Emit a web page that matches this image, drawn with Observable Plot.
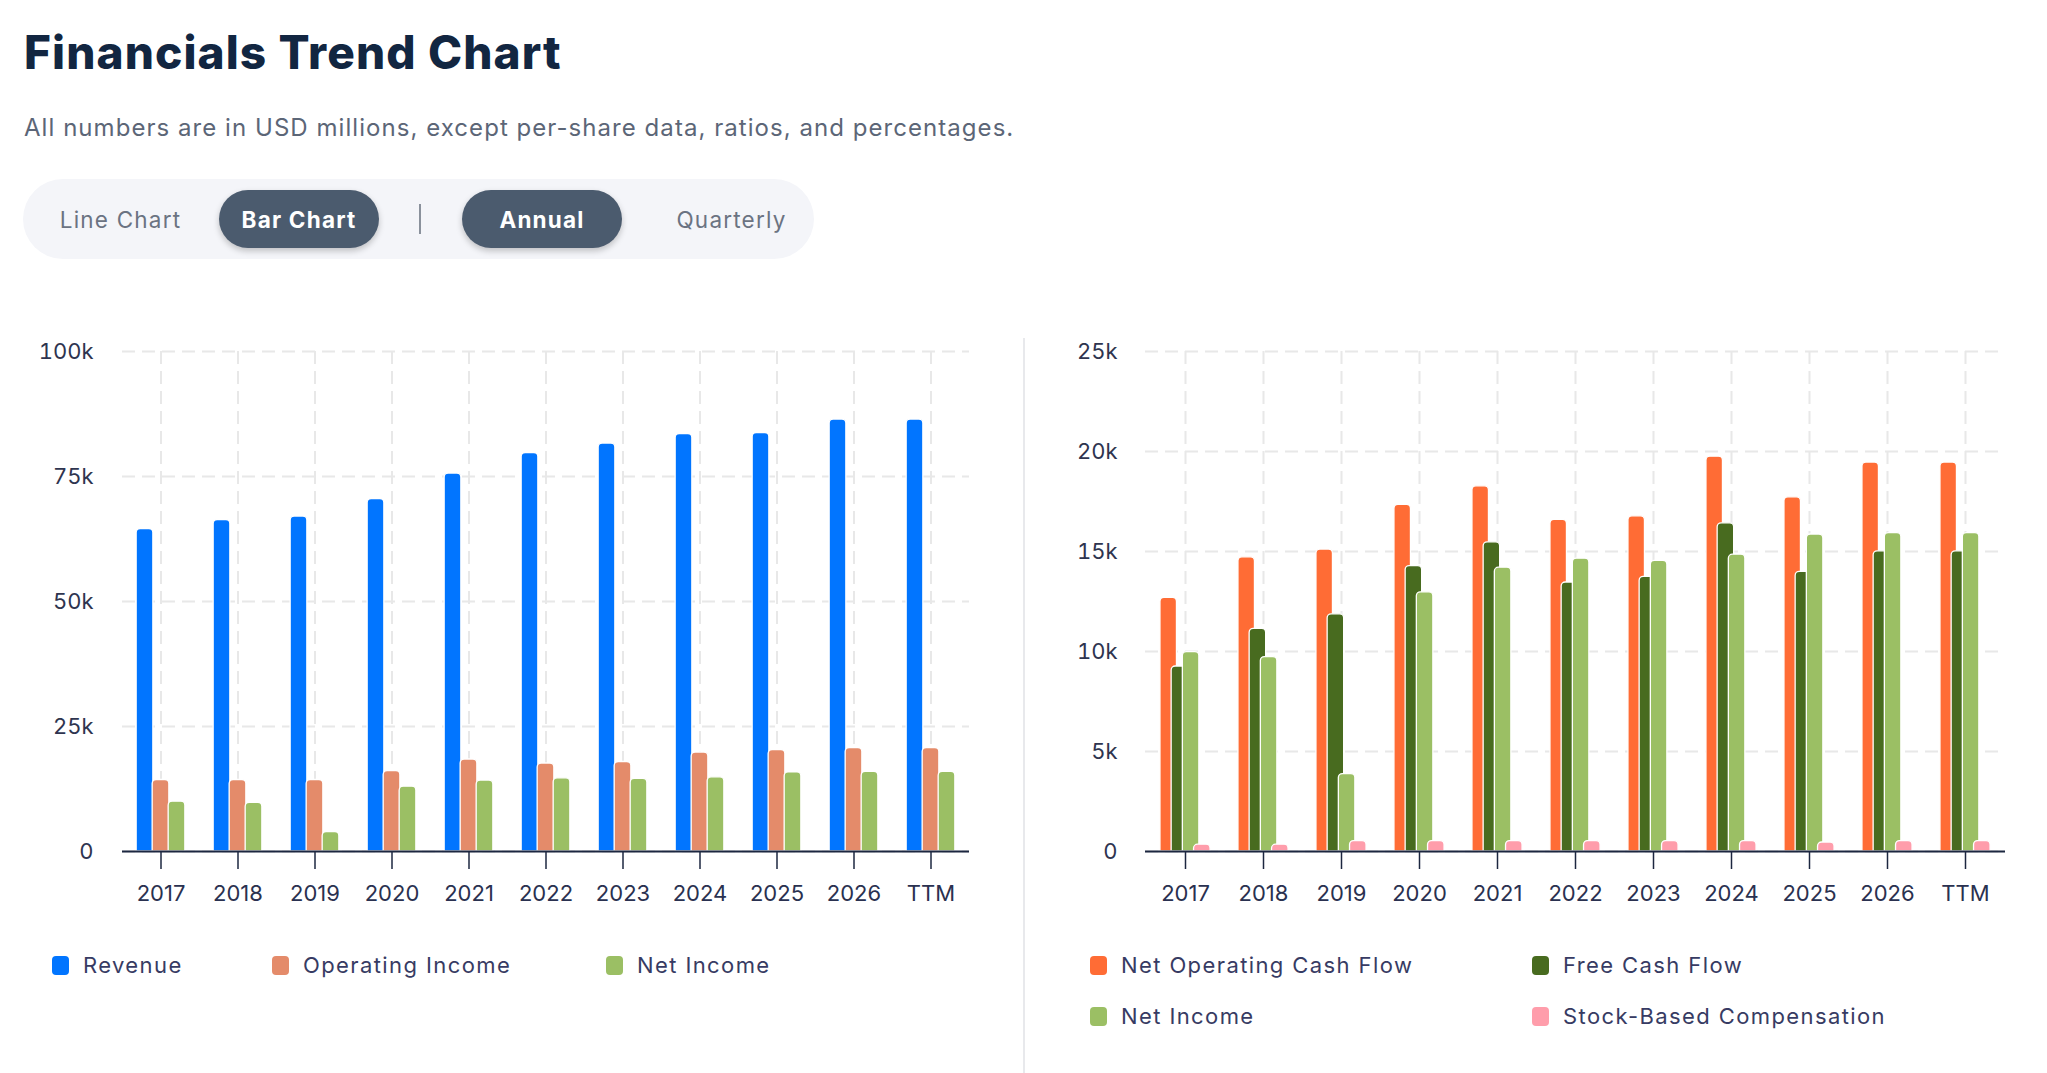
<!DOCTYPE html>
<html>
<head>
<meta charset="utf-8">
<script src="https://cdn.jsdelivr.net/npm/d3@7"></script>
<script src="https://cdn.jsdelivr.net/npm/@observablehq/plot@0.6"></script>
<style>
  html, body { margin: 0; padding: 0; background: #fff; }
  body { width: 2047px; height: 1073px; position: relative; overflow: hidden; font-family: "Inter", "Noto Sans", sans-serif; }
  .abs { position: absolute; }
  #title { left: 24px; top: 24px; font-size: 46px; font-weight: 800; color: #122641; letter-spacing: 1.1px; white-space: nowrap; }
  #subtitle { left: 24px; top: 113px; font-size: 24px; color: #5c6677; letter-spacing: 1.05px; white-space: nowrap; }
  #pill { left: 23px; top: 179px; width: 791px; height: 80px; border-radius: 40px; background: #f4f5f9; }
  .btn { height: 58px; top: 190px; border-radius: 29px; background: #4b5b6e; color: #fff; font-weight: 700; font-size: 22.5px; letter-spacing: 1.2px; display: flex; align-items: center; justify-content: center; box-shadow: 0 3px 6px rgba(0,0,0,0.22); }
  .opt { top: 190px; height: 58px; display: flex; align-items: center; justify-content: center; font-size: 22.5px; letter-spacing: 1.2px; color: #6b7382; }
  #divider { left: 419px; top: 204px; width: 1.5px; height: 30px; background: #8a919c; }
  #sep { left: 1023px; top: 338px; width: 1.5px; height: 735px; background: #e8e9ec; }
  .chart { position: absolute; top: 320px; }
  .legend-item { position: absolute; display: flex; align-items: center; font-size: 22px; letter-spacing: 1.4px; color: #373b63; white-space: nowrap; height: 30px; }
  .sw { width: 17px; height: 19px; border-radius: 4px; margin-right: 14px; }
</style>
</head>
<body>
<div id="title" class="abs">Financials Trend Chart</div>
<div id="subtitle" class="abs">All numbers are in USD millions, except per-share data, ratios, and percentages.</div>
<div id="pill" class="abs"></div>
<div class="abs opt" style="left:50px;width:141px;">Line Chart</div>
<div class="abs btn" style="left:219px;width:160px;">Bar Chart</div>
<div id="divider" class="abs"></div>
<div class="abs btn" style="left:462px;width:160px;">Annual</div>
<div class="abs opt" style="left:660px;width:143px;">Quarterly</div>
<div id="sep" class="abs"></div>
<div id="left" class="chart" style="left:0px;"></div>
<div id="right" class="chart" style="left:1024px;"></div>
<div id="legend-left"></div>
<div id="legend-right"></div>
<script>
// ---- data (USD millions) ----
const years = ["2017", "2018", "2019", "2020", "2021", "2022", "2023", "2024", "2025", "2026", "TTM"];
const revenue = [64500, 66300, 67000, 70500, 75600, 79700, 81600, 83500, 83700, 86400, 86400];
const operatingIncome = [14300, 14300, 14300, 16100, 18400, 17600, 17900, 19800, 20300, 20700, 20700];
const netIncome = [9970, 9720, 3870, 12960, 14190, 14640, 14530, 14840, 15850, 15920, 15920];
const netOperatingCashFlow = [12680, 14710, 15100, 17330, 18260, 16580, 16760, 19740, 17710, 19450, 19450];
const freeCashFlow = [9250, 11130, 11860, 14270, 15460, 13450, 13730, 16410, 13980, 15010, 15010];
const stockBasedCompensation = [340, 340, 520, 520, 520, 520, 520, 520, 450, 520, 520];

const leftTicks = [0, 25000, 50000, 75000, 100000];
const rightTicks = [0, 5000, 10000, 15000, 20000, 25000];

const leftSeries = [
  {name: "Revenue", values: revenue, color: "#0175ff"},
  {name: "Operating Income", values: operatingIncome, color: "#e48b6a"},
  {name: "Net Income", values: netIncome, color: "#9bbf64"}
];
const rightSeries = [
  {name: "Net Operating Cash Flow", values: netOperatingCashFlow, color: "#ff6c35"},
  {name: "Free Cash Flow", values: freeCashFlow, color: "#486b1f"},
  {name: "Net Income", values: netIncome, color: "#9bbf64"},
  {name: "Stock-Based Compensation", values: stockBasedCompensation, color: "#ff9dab"}
];

const fmtK = d => d === 0 ? "0" : (d / 1000) + "k";

function makeChart({series, ticks, width, height, marginLeft, marginRight, marginTop, marginBottom, barWidth, offsets, yMax, labelPad}) {
  const plotW = width - marginLeft - marginRight;
  const bw = plotW / years.length;
  const inset = (bw - barWidth) / 2;
  const gridStyle = {stroke: "#e8e8e8", strokeOpacity: 1, strokeWidth: 2, strokeDasharray: "13,7"};
  const marks = [
    Plot.gridY(ticks, gridStyle),
    Plot.gridX(years, gridStyle)
  ];
  series.forEach((s, i) => {
    const rows = years.map((y, j) => ({year: y, value: s.values[j]}));
    marks.push(Plot.barY(rows, {
      x: "year", y: "value", fill: s.color, stroke: "white", strokeWidth: 1.3,
      insetLeft: inset, insetRight: inset, dx: offsets[i], ry1: 4
    }));
  });
  marks.push(Plot.ruleY([0], {stroke: "#1c2740", strokeWidth: 2}));
  marks.push(Plot.axisX({tickSize: 18, tickPadding: 16, fontSize: 22, stroke: "#1c2740", fill: "#2a3150", strokeWidth: 1.5, label: null}));
  marks.push(Plot.axisY({ticks, tickSize: 0, tickPadding: labelPad, tickFormat: fmtK, fontSize: 22, fill: "#2e344f", label: null}));
  return Plot.plot({
    width, height, marginLeft, marginRight, marginTop, marginBottom,
    style: {fontFamily: "Inter, 'Noto Sans', sans-serif", background: "transparent", overflow: "visible"},
    x: {type: "band", domain: years, padding: 0, label: null},
    y: {domain: [0, yMax], label: null},
    marks
  });
}

document.getElementById("left").appendChild(makeChart({
  series: leftSeries, ticks: leftTicks, width: 1000, height: 600,
  marginLeft: 122, marginRight: 31, marginTop: 31, marginBottom: 69,
  barWidth: 16.7, offsets: [-16, 0, 16], yMax: 100000, labelPad: 29
}));
document.getElementById("right").appendChild(makeChart({
  series: rightSeries, ticks: rightTicks, width: 1023, height: 600,
  marginLeft: 121, marginRight: 42, marginTop: 31, marginBottom: 69,
  barWidth: 16.7, offsets: [-16.8, -5.6, 5.6, 16.8], yMax: 25000, labelPad: 28
}));

// legends
function legendItem(parent, s, left, top) {
  const d = document.createElement("div");
  d.className = "legend-item";
  d.style.left = left + "px";
  d.style.top = top + "px";
  d.innerHTML = `<span class="sw" style="background:${s.color}"></span><span>${s.name}</span>`;
  parent.appendChild(d);
}
const ll = document.getElementById("legend-left");
const leftLegendX = [52, 272, 606];
leftSeries.forEach((s, i) => legendItem(ll, s, leftLegendX[i], 950));
const lr = document.getElementById("legend-right");
const rightLegendPos = [[1090, 950], [1532, 950], [1090, 1001], [1532, 1001]];
rightSeries.forEach((s, i) => legendItem(lr, s, rightLegendPos[i][0], rightLegendPos[i][1]));
</script>
</body>
</html>
